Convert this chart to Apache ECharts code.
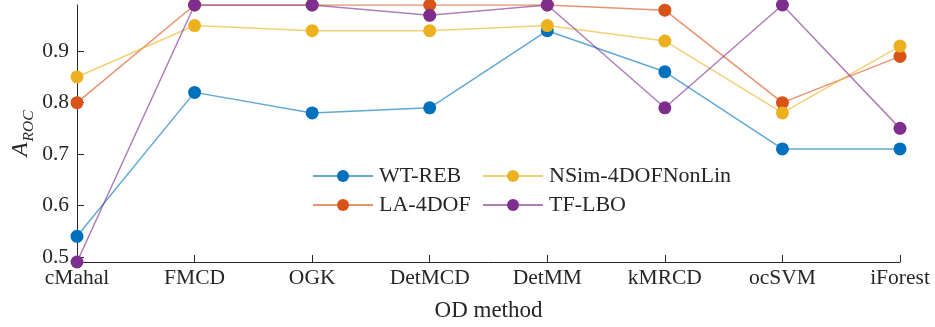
<!DOCTYPE html>
<html>
<head>
<meta charset="utf-8">
<script src="https://cdn.jsdelivr.net/npm/echarts@6/dist/echarts.min.js"></script>
<style>
  html, body { margin: 0; padding: 0; background: #fff; }
  #chart { width: 935px; height: 327px; }
</style>
</head>
<body>
<div id="chart"></div>
<script>
// OD methods along the x axis
const methods = ['cMahal', 'FMCD', 'OGK', 'DetMCD', 'DetMM', 'kMRCD', 'ocSVM', 'iForest'];

// A_ROC per method for each dataset
const wtReb = [0.54, 0.82, 0.78, 0.79, 0.94, 0.86, 0.71, 0.71];
const la4dof = [0.80, 0.99, 0.99, 0.99, 0.99, 0.98, 0.80, 0.89];
const nsim4dofNonLin = [0.85, 0.95, 0.94, 0.94, 0.95, 0.92, 0.78, 0.91];
const tfLbo = [0.49, 0.99, 0.99, 0.97, 0.99, 0.79, 0.99, 0.75];

const seriesNames = ['WT-REB', 'LA-4DOF', 'NSim-4DOFNonLin', 'TF-LBO'];
const seriesColors = ['#0072BD', '#D95319', '#EDB120', '#7E2F8E'];

// y range and labelled ticks
const yMin = 0.49;
const yMax = 0.99;
const yTicks = [0.5, 0.6, 0.7, 0.8, 0.9];

const FONT = '"Liberation Serif", "DejaVu Serif", serif';
const INK = '#262626';

const chart = echarts.init(document.getElementById('chart'), null, { renderer: 'canvas' });

function lineSeries(name, data, color) {
  return {
    name: name,
    type: 'line',
    data: data,
    symbol: 'circle',
    symbolSize: 13,
    showSymbol: true,
    itemStyle: { color: color, opacity: 1 },
    lineStyle: { color: color, width: 1.5, opacity: 0.62 },
    emphasis: { disabled: true },
    animation: false
  };
}

const seriesData = [wtReb, la4dof, nsim4dofNonLin, tfLbo];

const legendCommon = {
  orient: 'vertical',
  padding: 0,
  itemWidth: 60,
  itemHeight: 15,
  itemGap: 7,
  selectedMode: false,
  textStyle: { fontFamily: FONT, fontSize: 22, color: INK, lineHeight: 20, padding: [0, 0, 0, 1] }
};

chart.setOption({
  backgroundColor: '#fff',
  animation: false,
  grid: { left: 77, right: 35, top: 5, bottom: 65, containLabel: false, outerBoundsMode: 'none' },
  legend: [
    Object.assign({}, legendCommon, { left: 312, top: 165, data: [seriesNames[0], seriesNames[1]] }),
    Object.assign({}, legendCommon, { left: 482, top: 165, data: [seriesNames[2], seriesNames[3]] })
  ],
  xAxis: {
    type: 'category',
    data: methods,
    boundaryGap: false,
    name: 'OD method',
    nameLocation: 'middle',
    nameGap: 37,
    nameMoveOverlap: false,
    nameTextStyle: { fontFamily: FONT, fontSize: 23, color: INK },
    axisLine: { lineStyle: { color: INK, width: 1 } },
    axisTick: { inside: true, length: 7, alignWithLabel: true, lineStyle: { color: INK } },
    axisLabel: { fontFamily: FONT, fontSize: 21.5, color: INK, margin: 5 },
    splitLine: { show: false }
  },
  yAxis: {
    type: 'value',
    min: yMin,
    max: yMax,
    name: '{a|A}{s|ROC}',
    nameLocation: 'middle',
    nameRotate: 90,
    nameGap: 45,
    nameMoveOverlap: false,
    nameTextStyle: {
      padding: [0, 0, 0, 0],
      rich: {
        a: { fontFamily: FONT, fontStyle: 'italic', fontSize: 23, color: INK, verticalAlign: 'bottom', lineHeight: 24 },
        s: { fontFamily: FONT, fontStyle: 'italic', fontSize: 15.5, color: INK, verticalAlign: 'bottom', lineHeight: 24, padding: [0, 0, -5, 1] }
      }
    },
    axisLine: { show: true, lineStyle: { color: INK, width: 1 } },
    axisTick: { show: true, inside: true, length: 7, lineStyle: { color: INK }, customValues: yTicks },
    axisLabel: {
      fontFamily: FONT, fontSize: 21.5, color: INK, margin: 8,
      customValues: yTicks,
      formatter: v => v.toFixed(1)
    },
    splitLine: { show: false }
  },
  series: seriesNames.map((n, i) => lineSeries(n, seriesData[i], seriesColors[i]))
});
</script>
</body>
</html>
